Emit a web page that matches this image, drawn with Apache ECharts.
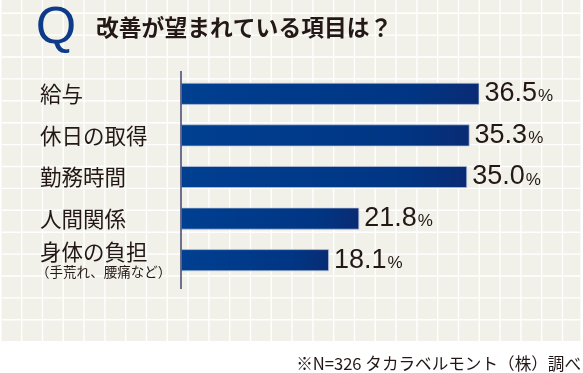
<!DOCTYPE html>
<html><head><meta charset="utf-8">
<script src="https://cdn.jsdelivr.net/npm/echarts@6/dist/echarts.min.js"></script>
<style>html,body{margin:0;padding:0;background:#fff}#c{width:583px;height:373px}</style>
</head><body><div id="c"></div>
<script>
const categories = ['給与', '休日の取得', '勤務時間', '人間関係', '身体の負担'];
const subNotes = ['', '', '', '', '（手荒れ、腰痛など）'];
const values = [36.5, 35.3, 35.0, 21.8, 18.1];
const titleText = '改善が望まれている項目は？';
const footText = '※N=326 タカラベルモント（株）調べ';

const chart = echarts.init(document.getElementById('c'), null, {renderer: 'canvas'});
const JP = '"Noto Sans CJK JP","Noto Sans CJK SC",sans-serif';
const NUM = '"Liberation Sans Narrow","Liberation Sans",Arial,sans-serif';

const bg = [{type: 'rect', shape: {x: 1.5, y: 0, width: 579, height: 341}, style: {fill: '#f1f1ea'}, z: -10, silent: true}];
for (let x = 21.7; x < 580; x += 20.8) {
  bg.push({type: 'line', shape: {x1: x, y1: 0, x2: x, y2: 341}, style: {stroke: '#ffffff', lineWidth: 1.4}, z: -9, silent: true});
}
for (let y = 13.2; y < 341; y += 21.9) {
  bg.push({type: 'line', shape: {x1: 1.5, y1: y, x2: 580.5, y2: y}, style: {stroke: '#ffffff', lineWidth: 1.4}, z: -9, silent: true});
}
bg.push({type: 'text', x: 56, y: 29, style: {text: 'Q', font: '52px "Liberation Sans",Arial,sans-serif', fill: '#0d3b8a', align: 'center', verticalAlign: 'middle'}, z: 5});
bg.push({type: 'text', x: 96, y: 27, style: {text: titleText, font: 'bold 22.8px ' + JP, fill: '#231815', verticalAlign: 'middle'}, z: 5});
bg.push({type: 'text', x: 581, y: 364, style: {text: footText, font: '16.6px ' + JP, fill: '#231815', align: 'right', verticalAlign: 'middle'}, z: 5});
bg.push({type: 'line', shape: {x1: 181, y1: 71, x2: 181, y2: 289}, style: {stroke: '#43436f', lineWidth: 1.5}, z: 6});

chart.setOption({
  animation: false,
  graphic: bg,
  grid: {left: 181, top: 73, height: 208, right: 75},
  xAxis: {type: 'value', min: 0, max: 40, show: false},
  yAxis: {
    type: 'category', data: categories, inverse: true,
    axisLine: {show: false}, axisTick: {show: false}, splitLine: {show: false},
    axisLabel: {
      align: 'left', margin: 141,
      formatter: (v, i) => subNotes[i] ? '{main|' + v + '}\n{sub|' + subNotes[i] + '}' : '{main|' + v + '}',
      rich: {
        main: {fontFamily: JP, fontSize: 21.5, color: '#231815', lineHeight: 24},
        sub: {fontFamily: JP, fontSize: 13.5, color: '#231815', lineHeight: 16, padding: [0, 0, 0, -4]}
      }
    }
  },
  series: [{
    type: 'bar', data: values, barWidth: 22,
    itemStyle: {
      color: new echarts.graphic.LinearGradient(0, 0, 1, 0, [
        {offset: 0, color: '#003f91'},
        {offset: 0.75, color: '#003684'},
        {offset: 1, color: '#0a2b74'}
      ]),
      borderColor: 'rgba(190,200,220,0.9)', borderWidth: 0.8
    },
    label: {
      show: true, position: 'right', distance: 5,
      formatter: p => '{n|' + p.value.toFixed(1) + '}{p|%}',
      rich: {
        n: {fontFamily: NUM, fontSize: 27, color: '#231815'},
        p: {fontFamily: NUM, fontSize: 17, color: '#231815', padding: [6, 0, 0, 1]}
      }
    }
  }]
});
</script></body></html>
